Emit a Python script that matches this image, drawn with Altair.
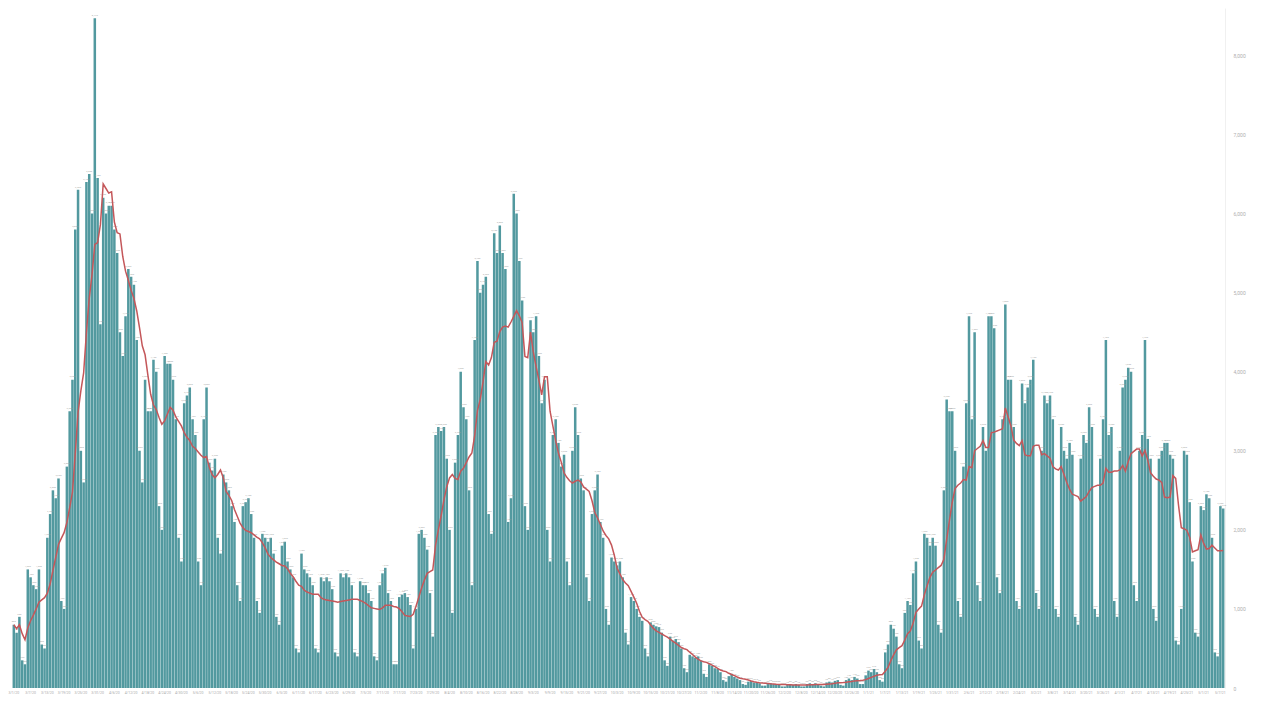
import altair as alt
import pandas as pd

# Daily counts in thousands, one week (7 days) per row
weeks = [
    [0.8, 0.7, 0.9, 0.35, 0.3, 1.5, 1.4],
    [1.3, 1.25, 1.5, 0.55, 0.5, 1.9, 2.2],
    [2.5, 2.4, 2.65, 1.1, 1.0, 2.8, 3.5],
    [3.9, 5.8, 6.3, 3.0, 2.6, 6.4, 6.5],
    [6.0, 8.47, 6.45, 4.6, 6.2, 6.0, 6.1],
    [6.1, 5.8, 5.5, 4.5, 4.2, 4.7, 5.3],
    [5.2, 5.1, 4.4, 3.0, 2.6, 3.9, 3.5],
    [3.5, 4.15, 4.0, 2.3, 2.0, 4.2, 4.1],
    [4.1, 3.9, 3.4, 1.9, 1.6, 3.6, 3.7],
    [3.8, 3.4, 3.2, 1.6, 1.3, 3.4, 3.8],
    [2.85, 2.75, 2.9, 1.9, 1.7, 2.7, 2.6],
    [2.5, 2.3, 2.1, 1.3, 1.1, 2.3, 2.35],
    [2.4, 2.2, 1.9, 1.1, 0.95, 1.95, 1.9],
    [1.85, 1.9, 1.7, 0.9, 0.8, 1.8, 1.85],
    [1.6, 1.5, 1.4, 0.5, 0.45, 1.7, 1.5],
    [1.45, 1.4, 1.3, 0.5, 0.45, 1.4, 1.35],
    [1.4, 1.35, 1.25, 0.45, 0.4, 1.45, 1.4],
    [1.45, 1.4, 1.3, 0.45, 0.4, 1.35, 1.3],
    [1.3, 1.2, 1.1, 0.4, 0.35, 1.3, 1.45],
    [1.52, 1.2, 1.1, 0.3, 0.3, 1.15, 1.18],
    [1.2, 1.15, 1.05, 0.5, 1.0, 1.95, 2.0],
    [1.9, 1.75, 1.2, 0.65, 3.2, 3.3, 3.25],
    [3.3, 2.9, 2.0, 0.95, 2.85, 3.2, 4.0],
    [3.55, 3.4, 2.5, 1.3, 4.4, 5.4, 5.0],
    [5.1, 5.2, 2.2, 1.95, 5.75, 5.5, 5.85],
    [5.5, 5.3, 2.1, 2.4, 6.25, 6.0, 5.4],
    [4.9, 2.3, 2.0, 4.65, 4.5, 4.7, 4.2],
    [3.6, 3.9, 2.0, 1.6, 3.2, 3.4, 3.1],
    [2.8, 2.95, 1.6, 1.3, 3.0, 3.55, 3.2],
    [2.65, 2.5, 1.4, 1.1, 2.2, 2.5, 2.7],
    [2.1, 1.9, 1.0, 0.8, 1.65, 1.6, 1.55],
    [1.6, 1.4, 0.7, 0.55, 1.15, 1.1, 1.0],
    [0.9, 0.85, 0.5, 0.4, 0.83, 0.8, 0.78],
    [0.77, 0.7, 0.35, 0.28, 0.65, 0.6, 0.62],
    [0.58, 0.5, 0.25, 0.2, 0.42, 0.4, 0.38],
    [0.4, 0.35, 0.18, 0.14, 0.3, 0.28, 0.25],
    [0.24, 0.2, 0.1, 0.08, 0.15, 0.18, 0.14],
    [0.12, 0.1, 0.05, 0.04, 0.08, 0.09, 0.07],
    [0.07, 0.06, 0.03, 0.03, 0.05, 0.06, 0.05],
    [0.05, 0.05, 0.02, 0.02, 0.04, 0.05, 0.04],
    [0.05, 0.04, 0.02, 0.02, 0.05, 0.06, 0.05],
    [0.06, 0.05, 0.03, 0.02, 0.07, 0.08, 0.07],
    [0.09, 0.1, 0.04, 0.03, 0.1, 0.12, 0.1],
    [0.14, 0.12, 0.05, 0.05, 0.16, 0.22, 0.2],
    [0.24, 0.2, 0.1, 0.08, 0.45, 0.55, 0.8],
    [0.75, 0.65, 0.3, 0.25, 0.95, 1.1, 1.05],
    [1.45, 1.6, 0.6, 0.5, 1.95, 1.9, 1.8],
    [1.9, 1.8, 0.8, 0.7, 2.5, 3.65, 3.5],
    [3.5, 3.0, 1.1, 0.9, 2.8, 3.6, 4.7],
    [3.4, 4.5, 1.3, 1.1, 3.3, 3.0, 4.7],
    [4.7, 4.55, 1.4, 1.2, 3.4, 4.85, 3.9],
    [3.9, 3.3, 1.1, 1.0, 3.85, 3.6, 3.8],
    [3.9, 4.15, 1.2, 1.0, 3.0, 3.7, 3.6],
    [3.7, 3.4, 1.0, 0.9, 3.3, 3.0, 2.9],
    [3.1, 2.95, 0.9, 0.8, 2.9, 3.2, 3.1],
    [3.55, 3.3, 1.0, 0.9, 2.9, 3.4, 4.4],
    [3.2, 3.3, 1.1, 0.9, 3.0, 3.8, 3.9],
    [4.05, 4.0, 1.3, 1.1, 3.0, 3.2, 4.4],
    [3.15, 2.9, 1.0, 0.85, 2.9, 3.0, 3.1],
    [3.1, 2.95, 2.9, 0.6, 0.55, 1.0, 3.0],
    [2.95, 2.35, 1.6, 0.7, 0.65, 2.3, 2.25],
    [2.45, 2.4, 1.9, 0.45, 0.4, 2.3, 2.27],
]

values = [v for w in weeks for v in w]
dates = list(pd.date_range("2020-03-01", periods=len(values)).strftime("%-m/%-d/%y"))
tick_dates = dates[::6]
y_ticks = [0, 1, 2, 3, 4, 5, 6, 7, 8]

df = pd.DataFrame({"i": range(len(values)), "date": dates, "v": values})

x_enc = alt.X(
    "date:O",
    sort=dates,
    scale=alt.Scale(paddingInner=0.1, paddingOuter=0.2),
    axis=alt.Axis(
        title=None, values=tick_dates, labelAngle=0, labelFontSize=3.5,
        labelColor="#aaaaaa", ticks=False, domain=False, labelPadding=2,
        labelFont="Roboto", labelOverlap=False,
    ),
)
y_scale = alt.Scale(domain=[0, 8.6], nice=False, zero=True)

base = alt.Chart(df)

bars = base.mark_bar(color="#52999f").encode(
    x=x_enc,
    y=alt.Y(
        "v:Q", scale=y_scale,
        axis=alt.Axis(
            orient="right", title=None, values=y_ticks, grid=False,
            labelExpr="format(datum.value * 1000, ',')", labelFontSize=5,
            labelColor="#b0b0b0", ticks=False, domain=True,
            domainColor="#f0f0f0", labelPadding=8, labelFont="Roboto",
        ),
    ),
)

labels = base.mark_text(
    fontSize=2.5, color="#999999", dy=-3, opacity=0.8, font="Roboto"
).encode(
    x=alt.X("date:O", sort=dates),
    y=alt.Y("v:Q", scale=y_scale),
    text=alt.Text("lab:N"),
).transform_calculate(lab="format(datum.v * 1000, ',')")

line = base.mark_line(color="#c4575a", strokeWidth=1.5).encode(
    x=alt.X("date:O", sort=dates),
    y=alt.Y("avg:Q", scale=y_scale),
).transform_window(
    avg="mean(v)", frame=[-6, 0], sort=[alt.SortField("i")]
)

chart = (
    alt.layer(bars, labels, line)
    .properties(
        width=1213, height=680,
        autosize=alt.AutoSizeParams(type="none"),
        padding={"left": 4, "top": 0, "right": 29, "bottom": 6},
        background="white",
    )
    .configure_view(stroke=None)
)

chart.save("out.html", embed_options={"renderer": "svg", "actions": False})
